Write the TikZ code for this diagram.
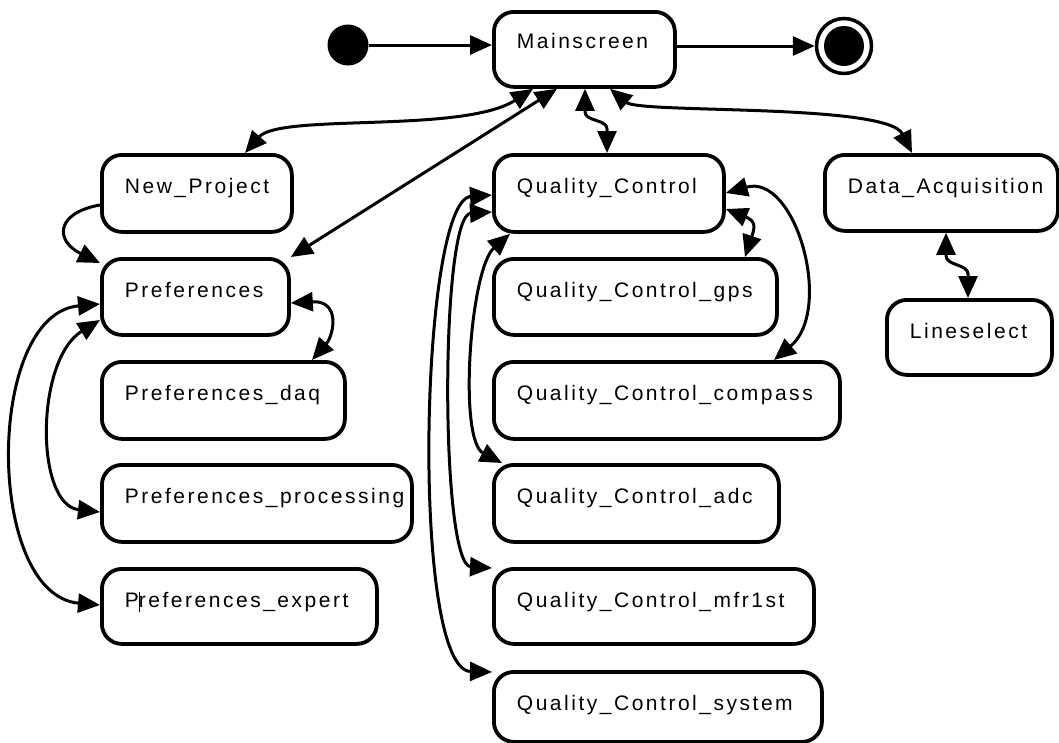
\documentclass[tikz,border=0pt]{standalone}
\usepackage{fontspec}
\newfontfamily\lblfont[LetterSpace=12]{Liberation Sans}
\usetikzlibrary{arrows.meta}
% state label, indented from the left edge of its box
\newcommand\boxlabel[1]{\hspace*{23pt}#1}

\begin{document}
\begin{tikzpicture}[x=1pt, y=-1pt,
  state/.style={draw, line width=3.8pt, rounded corners=20pt, anchor=north west,
    inner xsep=0pt, inner ysep=0pt, text height=39pt, text depth=38pt, align=left,
    font=\lblfont\fontsize{21}{25}\selectfont},
  conn/.style={line width=3pt},
  headend/.style={-{Triangle[length=22pt,width=19pt]}},
  headboth/.style={{Triangle[length=22pt,width=19pt]}-{Triangle[length=22pt,width=19pt]}},
  startdot/.style={circle, fill, minimum size=41pt, inner sep=0pt},
  enddot/.style={circle, draw, line width=3.5pt, minimum size=55pt, inner sep=0pt},
]
\path[use as bounding box, fill=white] (0,0) rectangle (1059,742);

% pseudo states
\node[startdot] (init) at (348,45) {};
\node[enddot] (fin) at (844,46) {};
\fill (fin.center) circle[radius=20pt];

% top level
\node[state, text width=181pt, text height=37pt] (ms) at (492,10) {\boxlabel{Mainscreen}};

% left column
\node[state, text width=190pt] (np) at (100,153) {\boxlabel{New\_Project}};
\node[state, text width=187pt, text depth=37pt] (pref) at (100,257) {\boxlabel{Preferences}};
\node[state, text width=243pt] (pdaq) at (100,360) {\boxlabel{Preferences\_daq}};
\node[state, text width=310pt] (pproc) at (100,463) {\boxlabel{Preferences\_processing}};
\node[state, text width=275pt, text depth=36pt] (pexp) at (100,567)
  {\boxlabel{P\rlap{\rule[-4pt]{1pt}{20pt}}references\_expert}};

% middle column
\node[state, text width=230pt] (qc) at (492,153) {\boxlabel{Quality\_Control}};
\node[state, text width=283pt, text depth=37pt] (qcgps) at (492,257) {\boxlabel{Quality\_Control\_gps}};
\node[state, text width=346pt] (qccomp) at (492,360) {\boxlabel{Quality\_Control\_compass}};
\node[state, text width=285pt] (qcadc) at (492,463) {\boxlabel{Quality\_Control\_adc}};
\node[state, text width=320pt, text depth=36pt] (qcmfr) at (492,567) {\boxlabel{Quality\_Control\_mfr1st}};
\node[state, text width=328pt, text depth=31pt] (qcsys) at (492,670) {\boxlabel{Quality\_Control\_system}};

% right column
\node[state, text width=233pt, text depth=37pt] (da) at (823,153) {\boxlabel{Data\_Acquisition}};
\node[state, text width=165pt, text depth=36pt] (ls) at (885,298) {\boxlabel{Lineselect}};

% start and end
\draw[conn,headend] (init) -- (init -| ms.west);
\draw[conn,headend] (fin -| ms.east) -- (fin);

% Mainscreen transitions
\draw[conn,headboth] ([shift={(145,0)}]np.north west)
  .. controls +(35,-40) and +(-70,45) .. ([shift={(41,0)}]ms.south west);
\draw[conn,headboth] (pref.north east) -- ([shift={(65,0)}]ms.south west);
\draw[conn,headboth] ([shift={(93,0)}]ms.south west) -- ++(0,23)
  .. controls +(0,10) and +(0,-10) .. ([shift={(115,-24)}]qc.north west)
  -- ([shift={(115,0)}]qc.north west);
\draw[conn,headboth] ([shift={(118,0)}]ms.south west)
  .. controls +(30,25) and +(-25,-50) .. ([shift={(89,0)}]da.north west);
\draw[conn,headboth] ([shift={(123,0)}]da.south west) -- ++(0,23)
  .. controls +(0,10) and +(0,-10) .. ([shift={(83,-24)}]ls.north west)
  -- ([shift={(83,0)}]ls.north west);

% preferences group
\draw[conn,headend] ([shift={(0,52)}]np.north west)
  .. controls +(-45,8) and +(-45,-22) .. ([shift={(0,6)}]pref.north west);
\draw[conn,headboth] ([shift={(0,46)}]pref.north east)
  .. controls +(50,-3) and +(22,-25) .. ([shift={(212,0)}]pdaq.north west);
\draw[conn,headboth] ([shift={(0,63)}]pref.north west)
  .. controls +(-65,40) and +(-65,-7) .. ([shift={(0,49)}]pproc.north west);
\draw[conn,headboth] ([shift={(0,47)}]pref.north west)
  .. controls +(-115,10) and +(-115,-10) .. ([shift={(0,38)}]pexp.north west);

% quality control group
\draw[conn,headboth] ([shift={(0,42)}]qc.north west)
  .. controls +(-72,5) and +(-82,-2) .. ([shift={(0,2)}]qcsys.north west);
\draw[conn,headboth] ([shift={(0,59)}]qc.north west)
  .. controls +(-52,3) and +(-52,-3) .. ([shift={(0,1)}]qcmfr.north west);
\draw[conn,headboth] ([shift={(18,0)}]qc.south west)
  .. controls +(-40,35) and +(-44,-23) .. ([shift={(10,0)}]qcadc.north west);
\draw[conn,headboth] ([shift={(0,56)}]qc.north east)
  .. controls +(30,12) and +(10,-30) .. ([shift={(253,0)}]qcgps.north west);
\draw[conn,headboth] ([shift={(0,40)}]qc.north east)
  .. controls +(70,-20) and +(60,-50) .. ([shift={(282,0)}]qccomp.north west);
\end{tikzpicture}
\end{document}
